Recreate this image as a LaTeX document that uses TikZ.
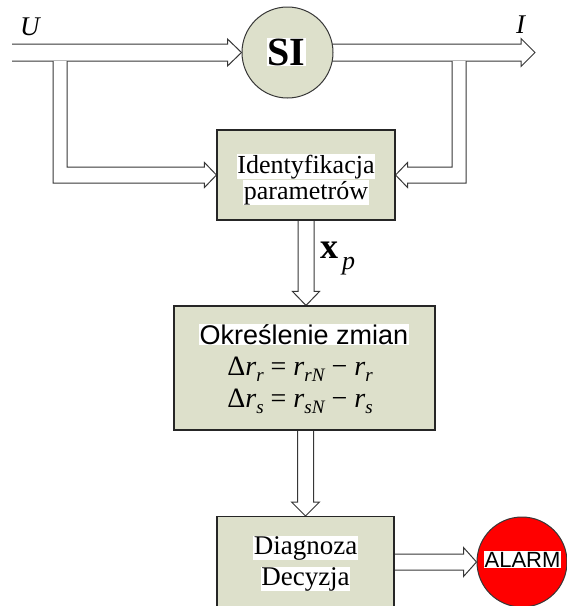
\documentclass[tikz,border=0pt]{standalone}
\usepackage{fontspec}
\setmainfont{Liberation Serif}
\newfontfamily\arialf{Liberation Sans}
\usetikzlibrary{calc}
\definecolor{sage}{RGB}{221,224,203}
\definecolor{arr}{RGB}{55,55,55}
\pgfdeclarelayer{bg}
\pgfsetlayers{bg,main}
\newcommand\hl[1]{{\setlength{\fboxsep}{0.5pt}\colorbox{white}{#1}}}
\newcommand\sbs[1]{\raisebox{-0.22em}{\fontsize{19}{19}\selectfont\itshape #1}}
\begin{document}
\begin{tikzpicture}[x=1pt,y=-1pt,
  blk/.style={draw=arr, line width=1pt, fill=white, line join=miter},
  box/.style={draw=black!85, fill=sage, line width=1.1pt, rectangle, inner sep=0pt},
  rnd/.style={circle, draw=arr, line width=1pt, inner sep=0pt},
  txt/.style={inner sep=0pt, anchor=base}]
\useasboundingbox (0,0) rectangle (567,606);
\clip (0,0) rectangle (567,606);

% nodes
\node[rnd, fill=sage, minimum size=91pt] (si) at (287.5,52.5) {};
\node[txt] (silbl) at (286.5,65) {\fontsize{40}{40}\selectfont\bfseries\hl{SI}};

\node[box, minimum width=178pt, minimum height=90pt] (id) at (306,175) {};
\node[txt] (id1) at (306,173) {\fontsize{26}{26}\selectfont\hl{Identyfikacja}};
\node[txt] (id2) at (306,199) {\fontsize{26}{26}\selectfont\hl{parametrów}};

\node[box, minimum width=261pt, minimum height=124pt] (ok) at (304.5,368) {};
\node[txt] (ok1) at (304,344) {\arialf\fontsize{27}{27}\selectfont\hl{Określenie zmian}};
\node[txt] (ok2) at (300,375) {\fontsize{28}{28}\selectfont Δ\textit{r}\sbs{r} = \textit{r}\sbs{rN} − \textit{r}\sbs{r}};
\node[txt] (ok3) at (300,407) {\fontsize{28}{28}\selectfont Δ\textit{r}\sbs{s} = \textit{r}\sbs{sN} − \textit{r}\sbs{s}};

\node[box, minimum width=177pt, minimum height=120pt, anchor=north] (dg) at (305.5,516) {};
\node[txt] (dg1) at (305.5,554) {\fontsize{27}{27}\selectfont\hl{Diagnoza}};
\node[txt] (dg2) at (305.5,585) {\fontsize{27}{27}\selectfont\hl{Decyzja}};

\node[rnd, fill=red, minimum size=90pt] (al) at (522,562) {};
\node[txt] (al1) at (522.5,567) {\arialf\fontsize{22}{22}\selectfont\hl{ALARM}};

\node[txt, anchor=base west] (ul) at (20,35) {\fontsize{27}{27}\selectfont\textit{U}};
\node[txt, anchor=base west] (il) at (516,33) {\fontsize{27}{27}\selectfont\textit{I}};
\node[txt, anchor=base west] (xp) at (320,258) {\fontsize{36}{36}\selectfont\textbf{x}\hspace{4pt}\raisebox{-11pt}{\fontsize{26}{26}\selectfont\textit{p}}};

\coordinate (uin) at (12,52.5);
\coordinate (iout) at (535,52.5);
\coordinate (ubl) at (60,61);
\coordinate (ubr) at (459,61);

\begin{pgfonlayer}{bg}
% U -> SI
\draw[blk] let \p1=(uin), \p2=(si.west) in
  (\x1,\y2+8.5pt) -- (\x2-14pt,\y2+8.5pt) -- (\x2-14pt,\y2+13.5pt) -- (\x2,\y2)
  -- (\x2-14pt,\y2-13.5pt) -- (\x2-14pt,\y2-8.5pt) -- (\x1,\y2-8.5pt);
% SI -> I
\draw[blk] let \p1=(si.center), \p2=(iout) in
  (\x1,\y2+8.5pt) -- (\x2-14pt,\y2+8.5pt) -- (\x2-14pt,\y2+14pt) -- (\x2,\y2)
  -- (\x2-14pt,\y2-14pt) -- (\x2-14pt,\y2-8.5pt) -- (\x1,\y2-8.5pt);
% left branch -> Identyfikacja
\draw[blk] let \p1=(ubl), \p2=(id.west) in
  (\x1-7pt,\y1) -- (\x1-7pt,\y2-8pt) -- (\x2-12pt,\y2-8pt) -- (\x2-12pt,\y2-12.5pt)
  -- (\x2,\y2) -- (\x2-12pt,\y2+12.5pt) -- (\x2-12pt,\y2+8pt) -- (\x1+7pt,\y2+8pt) -- (\x1+7pt,\y1);
% right branch -> Identyfikacja
\draw[blk] let \p1=(ubr), \p2=(id.east) in
  (\x1+7pt,\y1) -- (\x1+7pt,\y2-8pt) -- (\x2+12pt,\y2-8pt) -- (\x2+12pt,\y2-12.5pt)
  -- (\x2,\y2) -- (\x2+12pt,\y2+12.5pt) -- (\x2+12pt,\y2+8pt) -- (\x1-7pt,\y2+8pt) -- (\x1-7pt,\y1);
% Identyfikacja -> Okreslenie
\draw[blk] let \p1=(id.south), \p2=(ok.north) in
  (\x1-8pt,\y1) -- (\x1-8pt,\y2+14pt) -- (\x1-13.5pt,\y2+14pt) -- (\x1,\y2)
  -- (\x1+13.5pt,\y2+14pt) -- (\x1+8pt,\y2+14pt) -- (\x1+8pt,\y1);
% Okreslenie -> Diagnoza
\draw[blk] let \p1=(ok.south), \p2=(dg.north) in
  (\x2-8pt,\y1) -- (\x2-8pt,\y2+14pt) -- (\x2-14pt,\y2+14pt) -- (\x2,\y2)
  -- (\x2+14pt,\y2+14pt) -- (\x2+8pt,\y2+14pt) -- (\x2+8pt,\y1);
% Diagnoza -> ALARM
\draw[blk] let \p1=(dg.east), \p2=(al.west) in
  (\x1,\y2+8pt) -- (\x2-13pt,\y2+8pt) -- (\x2-13pt,\y2+14.5pt) -- (\x2,\y2)
  -- (\x2-13pt,\y2-14.5pt) -- (\x2-13pt,\y2-8pt) -- (\x1,\y2-8pt);
\end{pgfonlayer}
\end{tikzpicture}
\end{document}
